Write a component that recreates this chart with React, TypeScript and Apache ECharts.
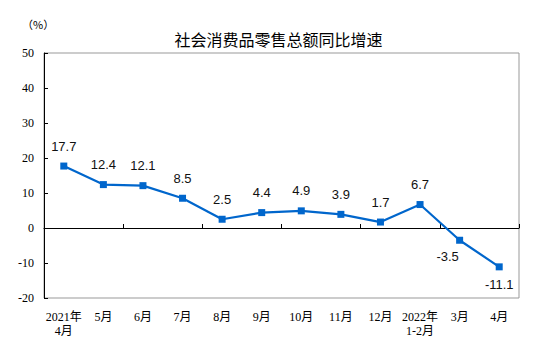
import React, { useEffect, useRef } from "react";
import * as echarts from "echarts";

const categories = ["2021年\n4月", "5月", "6月", "7月", "8月", "9月", "10月", "11月", "12月", "2022年\n1-2月", "3月", "4月"];
const values = [17.7, 12.4, 12.1, 8.5, 2.5, 4.4, 4.9, 3.9, 1.7, 6.7, -3.5, -11.1];
const titleText = "社会消费品零售总额同比增速";
const unitText = "（%）";

export default function App() {
  const ref = useRef<HTMLDivElement>(null);
  useEffect(() => {
    if (!ref.current) return;
    const chart = echarts.init(ref.current, null, { renderer: "svg" });
    const serif = "'Liberation Serif', 'Noto Sans CJK SC', serif";
    chart.setOption({
      animation: false,
      backgroundColor: "#fff",
      title: {
        text: titleText,
        left: "center",
        top: 26,
        textStyle: { fontFamily: "'Noto Sans CJK SC'", fontSize: 16, fontWeight: "normal", color: "#000" },
      },
      graphic: [
        {
          type: "text",
          left: 22,
          top: 18,
          style: { text: unitText, font: "11px 'Noto Sans CJK SC'", fill: "#000" },
        },
      ],
      grid: {
        left: 44,
        right: 38,
        top: 53,
        bottom: 66,
        show: true,
        borderColor: "#999",
        borderWidth: 1,
      },
      xAxis: [
        {
          type: "category",
          data: categories,
          position: "bottom",
          axisLine: { show: false, onZero: false },
          axisTick: { show: false },
          axisLabel: {
            interval: 0,
            margin: 12,
            fontFamily: serif,
            fontSize: 12,
            color: "#000",
            lineHeight: 14,
          },
        },
        {
          type: "category",
          data: categories,
          position: "bottom",
          axisLine: { show: true, onZero: true, lineStyle: { color: "#000", width: 1 } },
          axisTick: { show: true, inside: true, length: 4, lineStyle: { color: "#000" } },
          axisLabel: { show: false },
        },
      ],
      yAxis: {
        type: "value",
        min: -20,
        max: 50,
        interval: 10,
        axisLine: { show: true, lineStyle: { color: "#000", width: 1 } },
        axisTick: { show: true, inside: true, length: 4, lineStyle: { color: "#000" } },
        splitLine: { show: false },
        axisLabel: { fontFamily: serif, fontSize: 12, color: "#000", margin: 10 },
      },
      series: [
        {
          type: "line",
          xAxisIndex: 0,
          data: values.map((v, i) => {
            const neg = v < 0;
            const off = i === 10 ? [-12, -2] : [0, 0];
            return {
              value: v,
              label: {
                position: neg ? "bottom" : "top",
                distance: neg ? 8 : 10,
                offset: off,
              },
            };
          }),
          symbol: "rect",
          symbolSize: 7,
          lineStyle: { color: "#0066cc", width: 2.2 },
          itemStyle: { color: "#0066cc" },
          label: {
            show: true,
            fontFamily: "'Liberation Sans', Arial, sans-serif",
            fontSize: 13,
            color: "#111",
            formatter: (p: any) => String(p.value.toFixed ? p.value.toFixed(1) : p.value),
          },
        },
      ],
    });
    return () => chart.dispose();
  }, []);
  return <div ref={ref} style={{ width: 557, height: 364, margin: -8 }} />;
}
